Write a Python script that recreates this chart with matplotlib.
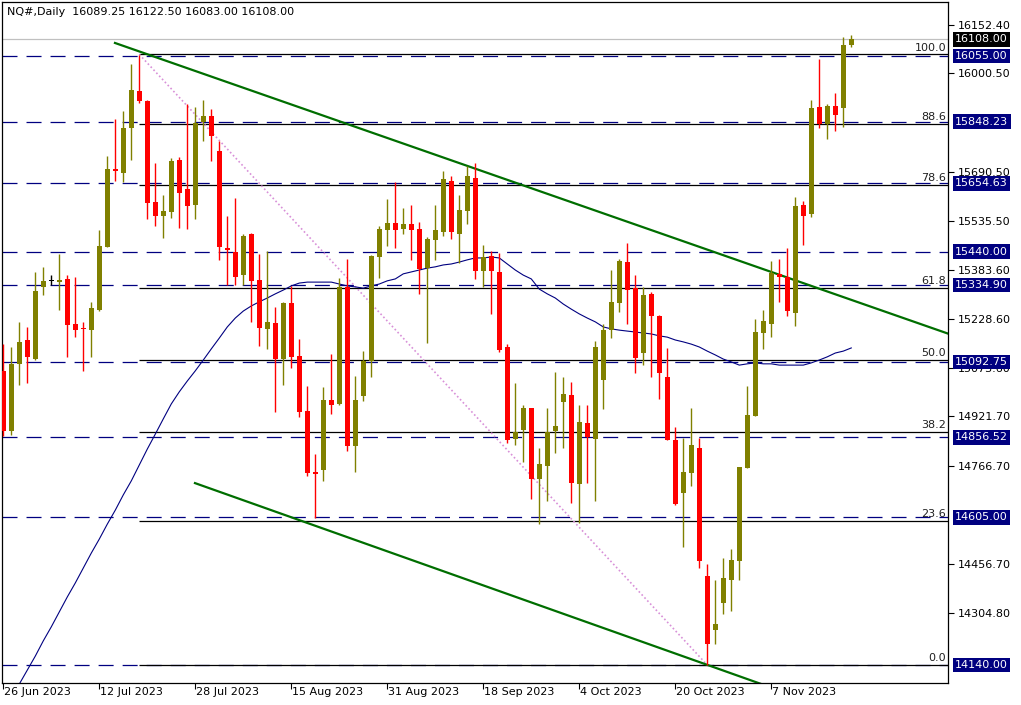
import matplotlib
matplotlib.use("Agg")
import matplotlib.pyplot as plt
import matplotlib.transforms as mtransforms
import numpy as np

plt.rcParams['font.family'] = ['DejaVu Sans']
plt.rcParams['lines.scale_dashes'] = False

# ---------------- data ----------------
opens = [15063, 14875, 15085, 15163, 15103, 15330, 15348, 15343, 15354, 15213,
         15197, 15192, 15257, 15455, 15700, 15688, 15830, 15945, 15914, 15595,
         15553, 15566, 15728, 15637, 15588, 15848, 15867, 15757, 15451, 15438,
         15367, 15495, 15351, 15198, 15216, 15102, 15278, 15112, 14939, 14747,
         14754, 14973, 14962, 15328, 14830, 14987, 15097, 15424, 15509, 15530,
         15512, 15527, 15511, 15389, 15476, 15503, 15662, 15496, 15569, 15671,
         15380, 15426, 15376, 15140, 14852, 14880, 14949, 14726, 14767, 14876,
         14968, 14989, 14710, 14901, 14852, 15037, 15194, 15279, 15407, 15327,
         15122, 15308, 15236, 15046, 14846, 14681, 14743, 14823, 14420, 14250,
         14335, 14407, 14468, 14758, 14924, 15184, 15213, 15370, 15359, 15248,
         15587, 15557, 15894, 15841, 15898, 15893, 16089.25]
highs = [15150, 15140, 15219, 15204, 15376, 15392, 15366, 15433, 15367, 15361,
         15220, 15280, 15508, 15741, 15857, 15882, 16030, 16058, 15916, 15718,
         15618, 15735, 15738, 15904, 15896, 15917, 15889, 15788, 15552, 15610,
         15495, 15498, 15432, 15441, 15266, 15282, 15332, 15165, 15018, 14805,
         15014, 15118, 15356, 15417, 15050, 15127, 15430, 15522, 15605, 15659,
         15577, 15587, 15533, 15485, 15586, 15693, 15678, 15618, 15709, 15719,
         15461, 15442, 15436, 15149, 15028, 14956, 14949, 14823, 14949, 15062,
         15047, 15029, 14956, 14959, 15159, 15212, 15383, 15417, 15467, 15367,
         15330, 15312, 15240, 15137, 14888, 14855, 14948, 14855, 14458, 14406,
         14476, 14505, 14763, 15017, 15228, 15256, 15409, 15416, 15451, 15611,
         15598, 15918, 16047, 15903, 15939, 16115, 16122.50]
lows = [14859, 14862, 15020, 15026, 15098, 15305, 15334, 15255, 15110, 15170,
        15063, 15107, 15252, 15453, 15662, 15660, 15729, 15908, 15544, 15519,
        15484, 15547, 15513, 15510, 15544, 15789, 15726, 15412, 15335, 15335,
        15335, 15218, 15144, 15135, 14934, 15022, 15075, 14921, 14735, 14603,
        14720, 14930, 14957, 14814, 14748, 14971, 15046, 15357, 15458, 15452,
        15495, 15415, 15308, 15154, 15414, 15489, 15480, 15403, 15528, 15355,
        15330, 15245, 15125, 14839, 14833, 14779, 14663, 14584, 14657, 14808,
        14823, 14650, 14588, 14713, 14657, 14946, 15169, 15251, 15213, 15059,
        15082, 15047, 14977, 14846, 14644, 14512, 14703, 14446, 14140, 14207,
        14300, 14309, 14407, 14758, 14924, 15134, 15172, 15283, 15236, 15205,
        15462, 15550, 15830, 15795, 15820, 15833, 16083.00]
closes = [14875, 15088, 15157, 15107, 15317, 15348, 15348, 15351, 15210, 15192,
          15195, 15264, 15458, 15700, 15692, 15829, 15948, 15914, 15594, 15553,
          15567, 15725, 15623, 15582, 15845, 15867, 15805, 15453, 15446, 15361,
          15490, 15349, 15201, 15219, 15102, 15278, 15109, 14934, 14745, 14742,
          14973, 14959, 15328, 14830, 14973, 15096, 15427, 15511, 15530, 15509,
          15527, 15509, 15385, 15480, 15508, 15668, 15503, 15571, 15678, 15380,
          15423, 15380, 15131, 14849, 14874, 14949, 14726, 14773, 14874, 14893,
          14993, 14713, 14904, 14857, 15140, 15193, 15281, 15410, 15320, 15106,
          15305, 15239, 15059, 14849, 14647, 14747, 14832, 14466, 14207, 14269,
          14413, 14469, 14763, 14926, 15186, 15222, 15373, 15359, 15254, 15583,
          15553, 15892, 15842, 15898, 15871, 16089, 16108.00]

# moving average (one value per bar)
ma_values = [13989, 14033, 14080, 14124, 14168, 14216, 14260, 14307, 14354, 14398,
             14445, 14492, 14536, 14583, 14627, 14675, 14719, 14769, 14819, 14866,
             14914, 14961, 14999, 15033, 15065, 15099, 15134, 15168, 15203, 15231,
             15253, 15269, 15282, 15294, 15307, 15319, 15332, 15341, 15344, 15344,
             15344, 15344, 15338, 15332, 15329, 15325, 15332, 15338, 15348, 15354,
             15370, 15376, 15382, 15388, 15392, 15398, 15401, 15407, 15414, 15420,
             15420, 15423, 15420, 15401, 15382, 15366, 15354, 15322, 15307, 15294,
             15275, 15259, 15244, 15231, 15219, 15203, 15197, 15193, 15190, 15187,
             15184, 15181, 15175, 15171, 15162, 15156, 15149, 15140, 15127, 15115,
             15102, 15093, 15083, 15087, 15090, 15087, 15087, 15083, 15083, 15083,
             15083, 15090, 15099, 15109, 15121, 15127, 15137]

date_labels = ["26 Jun 2023", "12 Jul 2023", "28 Jul 2023", "15 Aug 2023", "31 Aug 2023",
               "18 Sep 2023", "4 Oct 2023", "20 Oct 2023", "7 Nov 2023"]
date_bars = [0, 12, 24, 36, 48, 60, 72, 84, 96]

price_ticks = [16152.40, 16000.50, 15690.50, 15535.50, 15383.60, 15228.60,
               15073.60, 14921.70, 14766.70, 14456.70, 14304.80]

level_prices = [16055.00, 15848.23, 15654.63, 15440.00, 15334.90, 15092.75,
                14856.52, 14605.00, 14140.00]

fib_low, fib_high = 14140.0, 16060.0
fib_ratios = [100.0, 88.6, 78.6, 61.8, 50.0, 38.2, 23.6, 0.0]
fib_start_bar, fib_end_bar = 17, 88

trend_upper = [(13.96, 16096.0), (118.1, 15182.0)]
trend_lower = [(23.96, 14712.0), (96.0, 14069.0)]

last_price = 16108.00
header = "NQ#,Daily  16089.25 16122.50 16083.00 16108.00"

# ---------------- figure ----------------
W, H = 1021, 705
fig = plt.figure(figsize=(W / 100, H / 100), dpi=100)
ax = fig.add_axes([2 / W, (H - 683) / H, 946 / W, 681 / H])
ax.set_xlim(-0.1625, 118.09)
ax.set_ylim(14083.4, 16224.8)

navy = '#000080'
olive = '#808000'
red = '#ff0000'

# horizontal dashed levels
for p in level_prices:
    ax.axhline(p, color=navy, lw=0.9, dashes=(10.8, 6.5), zorder=1)

# current price line
ax.axhline(last_price, color='#c0c0c0', lw=0.9, zorder=1)

# fib lines
fib_prices = [fib_low + r / 100.0 * (fib_high - fib_low) for r in fib_ratios]
for r, p in zip(fib_ratios, fib_prices):
    ax.plot([fib_start_bar, 118.09], [p, p], color='black', lw=0.9, zorder=1.5,
            solid_capstyle='butt')
    ax.text(117.84, p + 6, f"{r:.1f}", ha='right', va='bottom', fontsize=8,
            color='#202020', zorder=6)
ax.plot([fib_start_bar, fib_end_bar], [fib_high, fib_low], color='#d890d8', lw=1.2,
        linestyle=(0, (1.2, 1.8)), zorder=1.6)

# trendlines
ax.plot(*zip(*trend_upper), color='#006e00', lw=1.6, zorder=2)
ax.plot(*zip(*trend_lower), color='#006e00', lw=1.6, zorder=2)

# moving average
idx = np.arange(len(opens))
ax.plot(idx, ma_values, color=navy, lw=0.8, zorder=2.2)

# candles
o = np.array(opens); h = np.array(highs); l = np.array(lows); c = np.array(closes)
colors = np.where(c > o, olive, np.where(c < o, red, 'black'))
ax.vlines(idx, l, h, colors=colors, lw=1.0, zorder=3)
bottoms = np.minimum(o, c)
heights = np.maximum(np.abs(c - o), 3.2)
ax.bar(idx, heights, bottom=bottoms, width=0.625, color=colors, linewidth=0, zorder=3.1)

# axes styling
for s in ax.spines.values():
    s.set_color('black'); s.set_linewidth(0.9)
ax.yaxis.tick_right()
ax.set_yticks(price_ticks)
ax.set_yticklabels([f"{t:.2f}" for t in price_ticks])
ax.tick_params(axis='y', direction='out', length=4, width=0.8, pad=3, labelsize=8,
               colors='black')
ax.set_xticks(date_bars)
ax.set_xticklabels([])
ax.tick_params(axis='x', direction='out', length=4, width=0.8)

blend_x = mtransforms.blended_transform_factory(ax.transData, ax.transAxes)
for b, lab in zip(date_bars, date_labels):
    ax.text(b + 0.15, -0.0135, lab, transform=blend_x, ha='left', va='center',
            fontsize=8, clip_on=False)

blend_y = mtransforms.blended_transform_factory(ax.transAxes, ax.transData)
for p in level_prices:
    ax.text(1.0074, p, f"{p:.2f}", transform=blend_y, ha='left', va='center',
            fontsize=8, color='white', clip_on=False, zorder=10,
            bbox=dict(boxstyle='square,pad=0.22', fc=navy, ec='none'))
ax.text(1.0074, last_price, f"{last_price:.2f}", transform=blend_y, ha='left',
        va='center', fontsize=8, color='white', clip_on=False, zorder=11,
        bbox=dict(boxstyle='square,pad=0.22', fc='black', ec='none'))

ax.text(5 / 946, 1 - 10 / 681, header, transform=ax.transAxes, ha='left',
        va='center', fontsize=8, color='black', zorder=12)

fig.savefig('out.png', dpi=100)
